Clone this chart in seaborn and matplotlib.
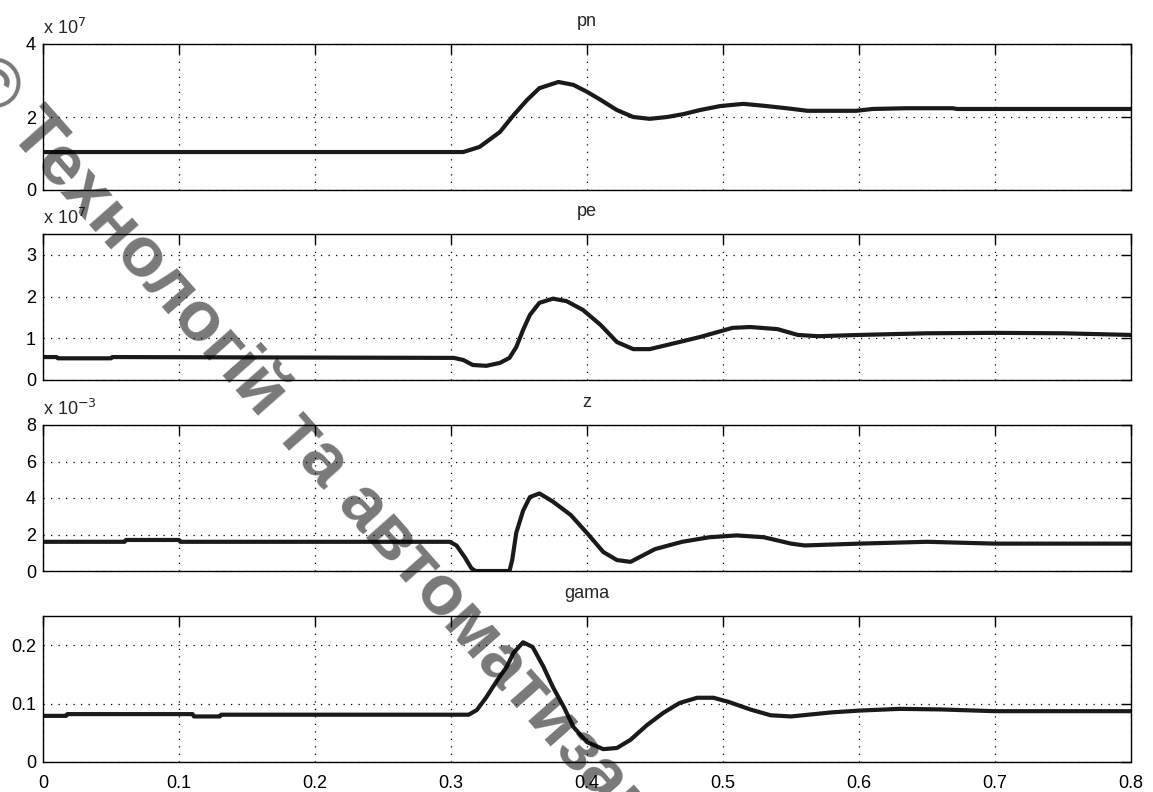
import numpy as np
import pandas as pd
import matplotlib
matplotlib.use("Agg")
import matplotlib.pyplot as plt
import seaborn as sns

# ---------------- data ----------------
x_ticks = [0, 0.1, 0.2, 0.3, 0.4, 0.5, 0.6, 0.7, 0.8]
x_tick_labels = ["0", "0.1", "0.2", "0.3", "0.4", "0.5", "0.6", "0.7", "0.8"]

pn_t = [0.0, 0.309, 0.321, 0.336, 0.346, 0.356, 0.365, 0.379, 0.390, 0.400, 0.410,
        0.422, 0.434, 0.446, 0.459, 0.471, 0.483, 0.498, 0.515, 0.532, 0.549,
        0.562, 0.598, 0.610, 0.635, 0.669, 0.672, 0.8]
pn_v = [1.04, 1.04, 1.18, 1.59, 2.05, 2.47, 2.79, 2.96, 2.88, 2.69, 2.47,
        2.19, 2.00, 1.95, 2.00, 2.08, 2.19, 2.30, 2.36, 2.30, 2.23,
        2.17, 2.17, 2.22, 2.24, 2.24, 2.22, 2.22]          # x 1e7

pe_t = [0.0, 0.01, 0.011, 0.05, 0.051, 0.302, 0.309, 0.316, 0.326, 0.336, 0.343,
        0.348, 0.353, 0.358, 0.365, 0.375, 0.385, 0.397, 0.410, 0.422, 0.434,
        0.446, 0.459, 0.483, 0.507, 0.520, 0.540, 0.555, 0.570, 0.600, 0.650,
        0.700, 0.750, 0.800]
pe_v = [0.55, 0.55, 0.52, 0.52, 0.55, 0.53, 0.48, 0.36, 0.34, 0.41, 0.53,
        0.79, 1.20, 1.56, 1.85, 1.95, 1.89, 1.68, 1.32, 0.91, 0.74,
        0.74, 0.84, 1.03, 1.25, 1.27, 1.22, 1.08, 1.05, 1.08, 1.12,
        1.13, 1.12, 1.08]                                   # x 1e7

z_t = [0.0, 0.06, 0.061, 0.1, 0.101, 0.299, 0.304, 0.310, 0.315, 0.318, 0.343,
       0.345, 0.348, 0.353, 0.358, 0.365, 0.375, 0.388, 0.400, 0.412, 0.422,
       0.432, 0.450, 0.470, 0.490, 0.510, 0.530, 0.550, 0.560, 0.600, 0.650,
       0.700, 0.800]
z_v = [1.6, 1.6, 1.7, 1.7, 1.6, 1.6, 1.4, 0.77, 0.15, 0.0, 0.0,
       0.6, 2.1, 3.3, 4.05, 4.25, 3.8, 3.07, 2.08, 1.04, 0.6,
       0.5, 1.2, 1.6, 1.85, 1.95, 1.85, 1.5, 1.4, 1.5, 1.6,
       1.5, 1.5]                                            # x 1e-3

gama_t = [0.0, 0.017, 0.018, 0.11, 0.111, 0.13, 0.131, 0.313, 0.319, 0.326, 0.334,
          0.341, 0.346, 0.353, 0.360, 0.368, 0.375, 0.383, 0.390, 0.400, 0.412,
          0.422, 0.432, 0.444, 0.456, 0.468, 0.481, 0.493, 0.504, 0.520, 0.535,
          0.550, 0.580, 0.600, 0.630, 0.660, 0.700, 0.800]
gama_v = [0.079, 0.079, 0.082, 0.082, 0.078, 0.078, 0.081, 0.081, 0.089, 0.111, 0.140,
          0.163, 0.187, 0.205, 0.197, 0.163, 0.128, 0.094, 0.060, 0.034, 0.022,
          0.024, 0.038, 0.063, 0.084, 0.101, 0.110, 0.110, 0.103, 0.090, 0.080,
          0.078, 0.085, 0.088, 0.091, 0.090, 0.087, 0.087]

panels = [
    dict(title="pn", t=pn_t, v=pn_v, ylim=(0, 4), yticks=[0, 2, 4],
         ylabels=["0", "2", "4"], exp="7"),
    dict(title="pe", t=pe_t, v=pe_v, ylim=(0, 3.5), yticks=[0, 1, 2, 3],
         ylabels=["0", "1", "2", "3"], exp="7"),
    dict(title="z", t=z_t, v=z_v, ylim=(0, 8), yticks=[0, 2, 4, 6, 8],
         ylabels=["0", "2", "4", "6", "8"], exp="-3"),
    dict(title="gama", t=gama_t, v=gama_v, ylim=(0, 0.25), yticks=[0, 0.1, 0.2],
         ylabels=["0", "0.1", "0.2"], exp=None),
]

# ---------------- figure ----------------
sns.set_style("white")
plt.rcParams["font.family"] = ["Liberation Sans", "DejaVu Sans"]
W, H = 1153, 792
fig = plt.figure(figsize=(W / 100, H / 100), dpi=100)

left_px, right_px = 43, 1131
tops_px = [44, 234, 425, 616]
h_px = 146

for p, top in zip(panels, tops_px):
    ax = fig.add_axes([left_px / W, 1 - (top + h_px) / H, (right_px - left_px) / W, h_px / H])
    df = pd.DataFrame({"t": p["t"], "v": p["v"]})
    sns.lineplot(data=df, x="t", y="v", ax=ax, color="#1a1a1a", linewidth=3.0,
                 sort=False, estimator=None)
    ax.set_xlim(0, 0.8)
    ax.set_ylim(*p["ylim"])
    ax.set_xticks(x_ticks)
    if p["title"] == "gama":
        ax.set_xticklabels(x_tick_labels)
    else:
        ax.set_xticklabels([])
    ax.set_yticks(p["yticks"])
    ax.set_yticklabels(p["ylabels"])
    ax.set_xlabel("")
    ax.set_ylabel("")
    ax.tick_params(direction="in", length=7, width=1, top=True, right=True,
                   labelsize=13, colors="black")
    ax.tick_params(axis="x", pad=9)
    ax.tick_params(axis="y", pad=5)
    ax.grid(True, color="black", linestyle=(0, (1, 5)), linewidth=0.9)
    for s in ax.spines.values():
        s.set_visible(True)
        s.set_color("black")
        s.set_linewidth(1.0)
    ax.set_title(p["title"], fontsize=13, pad=13)
    if p["exp"]:
        ax.text(0.0, 1.04, r"x 10$^{%s}$" % p["exp"], transform=ax.transAxes,
                ha="left", va="bottom", fontsize=13)

# watermark
fig.text(-26 / W, 1 - 66 / H, "© Технологій та автоматизації", fontsize=51,
         fontweight="bold", family=["Liberation Sans", "DejaVu Sans"], color="black",
         alpha=0.53, rotation=-48.5, rotation_mode="anchor", ha="left", va="center",
         zorder=10)

fig.savefig("out.png", dpi=100)
